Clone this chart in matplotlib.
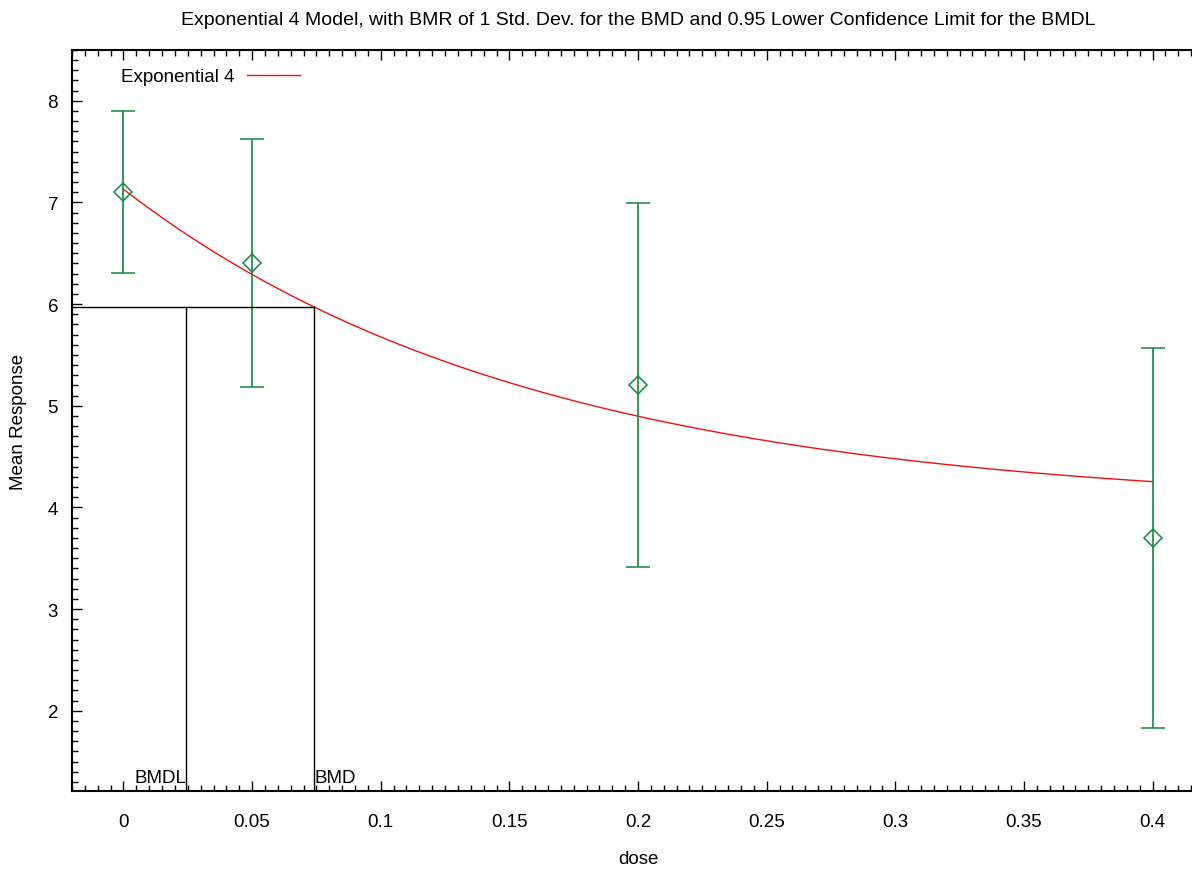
import numpy as np
import matplotlib.pyplot as plt
from matplotlib.ticker import MultipleLocator

plt.rcParams['font.family'] = ['Liberation Sans', 'DejaVu Sans']

# dose groups with observed means and confidence bounds
dose = [0.0, 0.05, 0.2, 0.4]
mean_resp = [7.10, 6.40, 5.20, 3.70]
lower = [6.31, 5.18, 3.41, 1.83]
upper = [7.90, 7.62, 6.99, 5.57]

# Exponential 4 model parameters: y = a * (c - (c - 1) * exp(-b * dose))
a_par = 7.13
b_par = 6.22
c_par = 0.56

bmd = 0.0742
bmdl = 0.0245
bmr_level = 5.97

green = '#11883f'
red = '#ee1111'
fs = 13.5

fig = plt.figure(figsize=(11.92, 8.70), dpi=100)
ax = fig.add_axes([72/1192, 1 - 792/870, (1204 - 72)/1192, (792 - 51)/870])

x_fit = np.linspace(0, max(dose), 300)
y_fit = a_par * (c_par - (c_par - 1) * np.exp(-b_par * x_fit))
ax.plot(x_fit, y_fit, color=red, lw=1, label='Exponential 4')

yerr = [np.array(mean_resp) - np.array(lower), np.array(upper) - np.array(mean_resp)]
ax.errorbar(dose, mean_resp, yerr=yerr, fmt='D', color=green, mfc='none', mec=green,
            ms=9, mew=1.1, elinewidth=1.2, capsize=8.6, capthick=1.2)

# BMD / BMDL lines
ax.plot([-0.02, bmd], [bmr_level, bmr_level], color='black', lw=1)
ax.plot([bmd, bmd], [1.0, bmr_level], color='black', lw=1)
ax.plot([bmdl, bmdl], [1.0, bmr_level], color='black', lw=1)
ax.text(bmdl, 1.26, 'BMDL', ha='right', va='bottom', fontsize=fs)
ax.text(bmd, 1.26, 'BMD', ha='left', va='bottom', fontsize=fs)

ax.set_xlim(-0.02, 0.42)
ax.set_ylim(1.21, 8.5)
ax.xaxis.set_minor_locator(MultipleLocator(0.005))
ax.yaxis.set_minor_locator(MultipleLocator(0.1))
ax.set_xticks([0, 0.05, 0.1, 0.15, 0.2, 0.25, 0.3, 0.35, 0.4])
ax.set_xticklabels(['0', '0.05', '0.1', '0.15', '0.2', '0.25', '0.3', '0.35', '0.4'])
ax.set_yticks([2, 3, 4, 5, 6, 7, 8])
ax.tick_params(which='both', direction='in', top=True, right=True, labelsize=fs)
ax.tick_params(which='major', length=7, width=1)
ax.tick_params(which='minor', length=4, width=1)
ax.tick_params(axis='x', which='major', pad=16)
ax.tick_params(axis='y', which='major', pad=10)
for s in ax.spines.values():
    s.set_linewidth(1.5)

ax.set_xlabel('dose', fontsize=fs, labelpad=14)
ax.set_ylabel('Mean Response', fontsize=fs, labelpad=15)
ax.set_title('Exponential 4 Model, with BMR of 1 Std. Dev. for the BMD and 0.95 Lower Confidence Limit for the BMDL',
             fontsize=14, pad=19)

ax.legend(loc='upper left', bbox_to_anchor=(0.028, 0.998), frameon=False, markerfirst=False,
          fontsize=fs, handlelength=2.8, handletextpad=0.7)

fig.savefig('out.png', dpi=100)
